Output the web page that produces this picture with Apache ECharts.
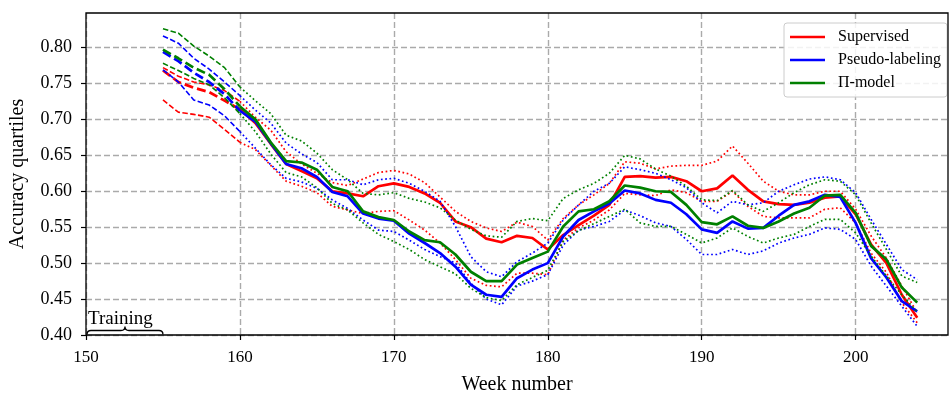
<!DOCTYPE html>
<html>
<head>
<meta charset="utf-8">
<script src="https://cdn.jsdelivr.net/npm/echarts@6/dist/echarts.min.js"></script>
<style>html,body{margin:0;padding:0;background:#fff}#c{width:952px;height:394px}</style>
</head>
<body>
<div id="c"></div>
<script>
const weeks = [155,156,157,158,159,160,161,162,163,164,165,166,167,168,169,170,171,172,173,174,175,176,177,178,179,180,181,182,183,184,185,186,187,188,189,190,191,192,193,194,195,196,197,198,199,200,201,202,203,204];
const trainingEnd = 160;
const xTicks = [150,160,170,180,190,200];
const yTicks = [0.40,0.45,0.50,0.55,0.60,0.65,0.70,0.75,0.80];
const trainingSpan = [150,155];
const methodNames = ['Supervised','Pseudo-labeling','\u03a0-model'];

const supMed = [0.768,0.752,0.744,0.738,0.726,0.714,0.695,0.666,0.638,0.628,0.618,0.600,0.597,0.593,0.607,0.611,0.606,0.597,0.584,0.558,0.550,0.534,0.529,0.538,0.535,0.519,0.539,0.553,0.566,0.581,0.620,0.621,0.619,0.620,0.614,0.600,0.604,0.622,0.602,0.586,0.582,0.581,0.584,0.591,0.593,0.568,0.526,0.500,0.456,0.424];
const supUp  = [0.772,0.760,0.752,0.748,0.740,0.725,0.703,0.685,0.655,0.638,0.625,0.612,0.608,0.617,0.626,0.629,0.624,0.612,0.592,0.572,0.558,0.549,0.544,0.557,0.551,0.532,0.562,0.581,0.595,0.611,0.641,0.639,0.631,0.635,0.636,0.636,0.642,0.663,0.639,0.614,0.600,0.595,0.595,0.600,0.600,0.575,0.538,0.507,0.468,0.431];
const supLo  = [0.727,0.710,0.707,0.703,0.686,0.668,0.658,0.636,0.614,0.607,0.598,0.579,0.574,0.569,0.572,0.573,0.560,0.546,0.528,0.505,0.479,0.469,0.467,0.486,0.486,0.484,0.532,0.549,0.560,0.574,0.597,0.595,0.594,0.602,0.598,0.586,0.586,0.600,0.579,0.565,0.563,0.563,0.563,0.575,0.577,0.556,0.514,0.487,0.445,0.417];

const psMed = [0.794,0.781,0.765,0.752,0.735,0.712,0.697,0.667,0.638,0.632,0.620,0.599,0.593,0.569,0.562,0.559,0.541,0.528,0.514,0.495,0.470,0.456,0.453,0.479,0.491,0.500,0.537,0.560,0.572,0.583,0.601,0.597,0.588,0.584,0.568,0.547,0.542,0.558,0.548,0.549,0.566,0.581,0.586,0.595,0.592,0.556,0.507,0.480,0.447,0.433];
const psUp  = [0.816,0.806,0.785,0.770,0.752,0.733,0.713,0.695,0.667,0.652,0.640,0.616,0.616,0.609,0.616,0.618,0.611,0.600,0.586,0.551,0.509,0.488,0.481,0.502,0.514,0.528,0.560,0.581,0.600,0.611,0.634,0.630,0.625,0.616,0.605,0.584,0.570,0.586,0.581,0.584,0.600,0.609,0.617,0.620,0.616,0.598,0.561,0.526,0.491,0.477];
const psLo  = [0.769,0.752,0.727,0.720,0.705,0.683,0.660,0.637,0.618,0.613,0.604,0.588,0.576,0.560,0.546,0.544,0.532,0.519,0.509,0.500,0.472,0.450,0.442,0.468,0.475,0.484,0.525,0.546,0.551,0.558,0.574,0.566,0.556,0.551,0.533,0.512,0.512,0.519,0.512,0.517,0.528,0.535,0.540,0.549,0.547,0.533,0.496,0.468,0.440,0.412];

const piMed = [0.797,0.785,0.772,0.762,0.742,0.718,0.700,0.668,0.642,0.640,0.630,0.606,0.600,0.572,0.564,0.560,0.544,0.532,0.529,0.512,0.488,0.475,0.475,0.498,0.507,0.516,0.551,0.572,0.575,0.586,0.608,0.605,0.600,0.599,0.581,0.557,0.554,0.565,0.552,0.549,0.558,0.569,0.577,0.594,0.595,0.570,0.524,0.505,0.466,0.445];
const piUp  = [0.826,0.820,0.802,0.788,0.772,0.745,0.726,0.708,0.678,0.670,0.653,0.630,0.616,0.597,0.595,0.598,0.590,0.585,0.577,0.560,0.547,0.538,0.536,0.558,0.562,0.559,0.590,0.602,0.611,0.625,0.650,0.645,0.631,0.621,0.607,0.588,0.587,0.601,0.581,0.572,0.584,0.598,0.609,0.616,0.614,0.595,0.556,0.519,0.482,0.473];
const piLo  = [0.778,0.768,0.757,0.748,0.730,0.708,0.683,0.652,0.626,0.620,0.605,0.583,0.574,0.556,0.540,0.530,0.519,0.505,0.495,0.485,0.465,0.452,0.448,0.470,0.480,0.490,0.530,0.545,0.555,0.565,0.575,0.556,0.551,0.551,0.540,0.528,0.535,0.549,0.537,0.528,0.535,0.540,0.551,0.561,0.561,0.542,0.510,0.482,0.456,0.432];

const colors = ['#ff0000','#0000ff','#008000'];
const methods = [
  {name: methodNames[0], med: supMed, up: supUp, lo: supLo},
  {name: methodNames[1], med: psMed, up: psUp, lo: psLo},
  {name: methodNames[2], med: piMed, up: piUp, lo: piLo}
];

function seg(vals, early) {
  const out = [];
  for (let i = 0; i < weeks.length; i++) {
    if (early ? weeks[i] <= trainingEnd : weeks[i] >= trainingEnd) out.push([weeks[i], vals[i]]);
  }
  return out;
}
function line(name, data, color, width, type) {
  return {name, type: 'line', data, showSymbol: false, symbol: 'none', silent: true, animation: false,
    lineStyle: {color, width, type, cap: 'butt'}, itemStyle: {color}, z: 3};
}
const series = [];
methods.forEach((m, k) => {
  const c = colors[k];
  series.push(line(m.name + ' early', seg(m.med, true), c, 2.7, [9, 4]));
  series.push(line(m.name, seg(m.med, false), c, 2.7, 'solid'));
  series.push(line(m.name + ' q3 early', seg(m.up, true), c, 1.6, [5.5, 2.4]));
  series.push(line(m.name + ' q3', seg(m.up, false), c, 1.7, [1.7, 2.6]));
  series.push(line(m.name + ' q1 early', seg(m.lo, true), c, 1.6, [5.5, 2.4]));
  series.push(line(m.name + ' q1', seg(m.lo, false), c, 1.7, [1.7, 2.6]));
});
series.push({
  type: 'custom', name: 'training', silent: true, animation: false, clip: false, z: 5,
  data: [trainingSpan],
  encode: {x: [0, 1]},
  renderItem: function (params, api) {
    const p0 = api.coord([api.value(0), 0.40]);
    const p1 = api.coord([api.value(1), 0.40]);
    const x0 = p0[0] + 1, x1 = p1[0], yb = p0[1] - 0.5, ym = p0[1] - 4.5, yt = p0[1] - 8.5;
    const xm = (x0 + x1) / 2;
    const d = `M${x0},${yb} Q${x0},${ym} ${x0+4},${ym} L${xm-4},${ym} Q${xm},${ym} ${xm},${yt} Q${xm},${ym} ${xm+4},${ym} L${x1-4},${ym} Q${x1},${ym} ${x1},${yb}`;
    return {type: 'group', children: [
      {type: 'path', shape: {pathData: d}, style: {fill: null, stroke: '#000', lineWidth: 1.3}},
      {type: 'text', style: {text: 'Training', x: x0 + 1, y: yt + 2, fill: '#000',
        font: '19px "Liberation Serif", serif', textAlign: 'left', textVerticalAlign: 'bottom'}}
    ]};
  }
});

const serif = '"Liberation Serif", "DejaVu Serif", serif';
const chart = echarts.init(document.getElementById('c'), null, {renderer: 'canvas'});
chart.setOption({
  animation: false,
  backgroundColor: '#fff',
  grid: {left: 86, top: 13, right: 4, bottom: 59, show: true, borderColor: '#000', borderWidth: 1.3,
    backgroundColor: 'transparent', z: 10, containLabel: false, outerBoundsMode: 'none'},
  legend: {
    data: methodNames, orient: 'vertical', left: 784, top: 23,
    icon: 'rect', itemWidth: 35, itemHeight: 2.5, itemGap: 7,
    padding: [6, 6, 6, 6],
    backgroundColor: 'rgba(255,255,255,0.85)', borderColor: '#cccccc', borderWidth: 1, borderRadius: 3,
    textStyle: {fontFamily: serif, fontSize: 16, color: '#000', padding: [0, 0, 0, 8]},
    selectedMode: false
  },
  xAxis: {
    type: 'value', min: 150, max: 206, interval: 10,
    name: 'Week number', nameLocation: 'middle', nameGap: 40,
    nameTextStyle: {fontFamily: serif, fontSize: 20, color: '#000'},
    axisLine: {show: false},
    axisTick: {show: true, inside: false, length: 5, lineStyle: {color: '#000', width: 1.2}, customValues: xTicks},
    axisLabel: {fontFamily: serif, fontSize: 17, color: '#000', margin: 14, customValues: xTicks},
    splitLine: {show: true, lineStyle: {color: '#aaaaaa', width: 1.4, type: [6, 3]}}
  },
  yAxis: {
    type: 'value', min: 0.40, max: 0.848, interval: 0.05,
    name: 'Accuracy quartiles', nameLocation: 'middle', nameGap: 58, nameRotate: 90,
    nameTextStyle: {fontFamily: serif, fontSize: 20, color: '#000'},
    axisLine: {show: false},
    axisTick: {show: true, inside: false, length: 5, lineStyle: {color: '#000', width: 1.2}, customValues: yTicks},
    axisLabel: {fontFamily: serif, fontSize: 18, color: '#000', margin: 14, customValues: yTicks,
      formatter: v => v.toFixed(2)},
    splitLine: {show: true, lineStyle: {color: '#aaaaaa', width: 1.4, type: [6, 3]}}
  },
  series
});
</script>
</body>
</html>
